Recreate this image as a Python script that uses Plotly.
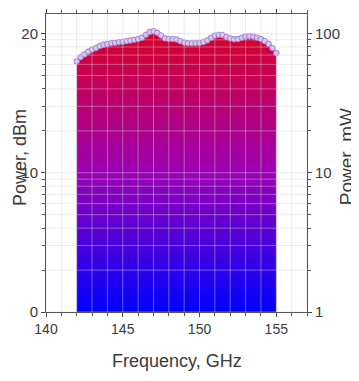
import numpy as np
import plotly.graph_objects as go

freq_ghz = [142.0, 142.25, 142.5, 142.75, 143.0, 143.25, 143.5, 143.75, 144.0, 144.25,
            144.5, 144.75, 145.0, 145.25, 145.5, 145.75, 146.0, 146.25, 146.5, 146.75,
            147.0, 147.25, 147.5, 147.75, 148.0, 148.25, 148.5, 148.75, 149.0, 149.25,
            149.5, 149.75, 150.0, 150.25, 150.5, 150.75, 151.0, 151.25, 151.5, 151.75,
            152.0, 152.25, 152.5, 152.75, 153.0, 153.25, 153.5, 153.75, 154.0, 154.25,
            154.5, 154.75, 155.0]
power_dbm = [18.0, 18.3, 18.5, 18.7, 18.85, 18.95, 19.1, 19.2, 19.25, 19.3,
             19.33, 19.37, 19.4, 19.45, 19.5, 19.55, 19.6, 19.7, 19.9, 20.1,
             20.17, 20.05, 19.85, 19.65, 19.6, 19.6, 19.57, 19.45, 19.35, 19.3,
             19.3, 19.3, 19.32, 19.38, 19.5, 19.7, 19.85, 19.9, 19.88, 19.75,
             19.65, 19.58, 19.6, 19.7, 19.78, 19.8, 19.78, 19.7, 19.6, 19.45,
             19.25, 18.95, 18.6]

x_ticks = [140, 145, 150, 155]
x_minor = list(range(140, 158))
dbm_ticks = [0, 10, 20]
mw_ticks = [1, 10, 100]
mw_minor = [k * 10 ** n for n in range(0, 2) for k in range(1, 10)] + [100]
dbm_minor = [10 * np.log10(v) for v in mw_minor]

x_range = [140, 157]
y_range = [0, 21.4]

fig = go.Figure()
fig.add_trace(go.Scatter(
    x=freq_ghz, y=power_dbm, mode="lines+markers", fill="tozeroy",
    fillgradient=dict(type="vertical", start=0, stop=20.2,
                      colorscale=[[0, "#0000ff"], [0.5, "#9c00b4"], [1, "#da0026"]]),
    line=dict(color="#b890dc", width=1.5, shape="spline"),
    marker=dict(size=5.5, color="#d8c6ee", line=dict(color="#a478d0", width=1)),
    showlegend=False, hoverinfo="skip"))
fig.add_trace(go.Scatter(x=[freq_ghz[0]], y=[10 ** (power_dbm[0] / 10)], yaxis="y2",
                         mode="markers", marker=dict(opacity=0), showlegend=False,
                         hoverinfo="skip"))

shapes = []
for xv in x_minor:
    shapes.append(dict(type="line", xref="x", yref="paper", x0=xv, x1=xv, y0=0, y1=1,
                       line=dict(color="rgba(210,210,210,0.45)", width=1), layer="above"))
for yv in dbm_minor:
    shapes.append(dict(type="line", xref="paper", yref="y", x0=0, x1=1, y0=yv, y1=yv,
                       line=dict(color="rgba(210,210,210,0.45)", width=1), layer="above"))

title_font = dict(family="Liberation Sans, Arial, sans-serif", color="#3a3a3a", size=19)
annotations = [
    dict(text="Power, dBm", xref="paper", yref="paper", x=-0.1, y=0.52,
         textangle=-90, showarrow=False, xanchor="center", yanchor="middle",
         font=dict(title_font, size=18)),
    dict(text="Power, mW", xref="paper", yref="paper", x=1.15, y=0.52,
         textangle=-90, showarrow=False, xanchor="center", yanchor="middle", font=title_font),
    dict(text="Frequency, GHz", xref="paper", yref="paper", x=0.5, y=-0.166,
         showarrow=False, xanchor="center", yanchor="middle",
         font=dict(title_font, size=18)),
]

# the page body adds an 8 px offset, so the figure is 8 px smaller and margins compensate
font = dict(family="Liberation Sans, Arial, sans-serif", color="#3a3a3a")
fig.update_layout(
    width=351, height=373,
    margin=dict(l=38, r=52, t=6, b=69, autoexpand=False),
    paper_bgcolor="white", plot_bgcolor="white",
    font=dict(**font, size=14),
    shapes=shapes, annotations=annotations,
    xaxis=dict(range=x_range, tickvals=x_ticks, ticks="outside", ticklen=4,
               showline=True, linecolor="#555", linewidth=1, mirror="ticks",
               showgrid=False, zeroline=False, automargin=False,
               minor=dict(tickvals=x_minor, ticks="outside", ticklen=3, tickcolor="#555"),
               tickfont=dict(size=14)),
    yaxis=dict(range=y_range, tickvals=dbm_ticks, ticks="outside", ticklen=4,
               showline=True, linecolor="#555", linewidth=1,
               showgrid=False, zeroline=False, automargin=False,
               minor=dict(tickvals=dbm_minor, ticks="outside", ticklen=3, tickcolor="#555"),
               tickfont=dict(size=15)),
    yaxis2=dict(type="log", range=[0, y_range[1] / 10], overlaying="y", side="right",
                tickvals=mw_ticks, ticktext=["1", "10", "100"], ticks="outside", ticklen=4,
                showline=True, linecolor="#555", linewidth=1,
                showgrid=False, zeroline=False, automargin=False,
                minor=dict(tickvals=mw_minor, ticks="outside", ticklen=3, tickcolor="#555"),
                tickfont=dict(size=15)),
)
fig.write_html("out.html")
